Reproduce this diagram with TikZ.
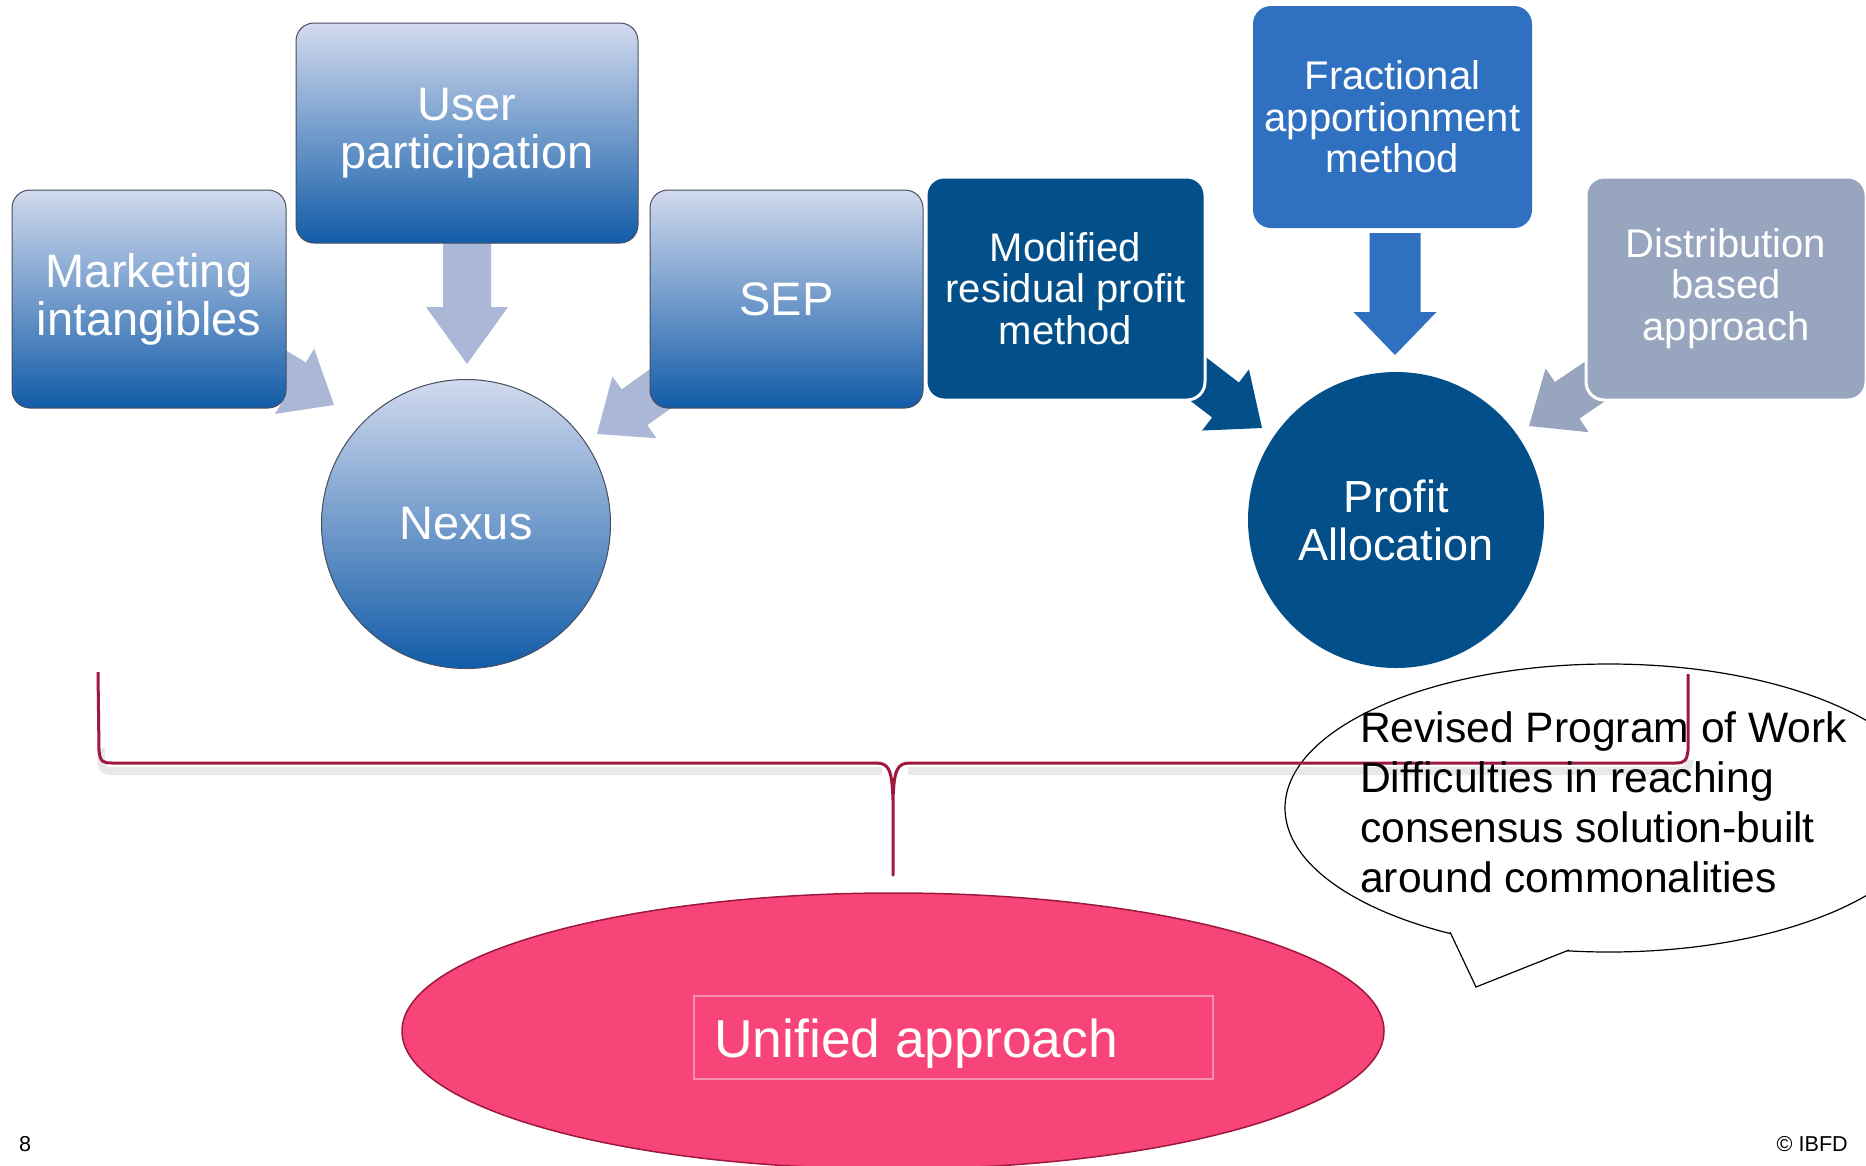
\documentclass[tikz,border=0pt]{standalone}
\usepackage{fontspec}
\setmainfont{Liberation Sans}
\usetikzlibrary{calc,shapes.geometric}
\definecolor{gtop}{RGB}{210,218,238}
\definecolor{gmid}{RGB}{132,160,214}
\definecolor{gbot}{RGB}{18,92,168}
\definecolor{gline}{RGB}{70,78,96}
\definecolor{larrow}{RGB}{170,183,214}
\definecolor{dblue}{RGB}{3,79,137}
\definecolor{mblue}{RGB}{47,112,192}
\definecolor{gblue}{RGB}{151,165,190}
\definecolor{crim}{RGB}{158,24,62}
\definecolor{pinkf}{RGB}{247,69,122}
\definecolor{pinkl}{RGB}{248,145,176}
% tip x, tip y, angle, length, head length, head width, shaft width, colour
\newcommand\blockarr[8]{\fill[#8,shift={(#1,#2)},rotate=#3] (0,0) -- (-#5,#6/2) -- (-#5,#7/2) -- (-#4,#7/2) -- (-#4,-#7/2) -- (-#5,-#7/2) -- (-#5,-#6/2) -- cycle;}
\tikzset{
  gradbox/.style={draw=gline, line width=1, rounded corners=18, top color=gtop, middle color=gmid, bottom color=gbot, text=white, align=center, inner sep=0pt, font=\fontsize{47}{48}\selectfont},
  flatbox/.style={rounded corners=18, text=white, align=center, inner sep=0pt, font=\fontsize{40}{41.5}\selectfont},
}
\begin{document}
\begin{tikzpicture}[x=1pt,y=-1pt]
\useasboundingbox (0,0) rectangle (1866,1165);
\clip (0,0) rectangle (1866,1165);
\fill[white] (0,0) rectangle (1866,1165);

% arrows (behind boxes)
\blockarr{467}{364}{-90}{124}{57}{82}{48}{larrow}
\blockarr{334}{405}{-31}{100}{46}{76}{44}{larrow}
\blockarr{597}{434}{215.5}{100}{46}{76}{44}{larrow}
\blockarr{1395}{355}{-90}{122}{43}{83}{51}{mblue}
\blockarr{1262}{428}{-37.5}{100}{46}{77}{44}{dblue}
\blockarr{1529}{426}{214}{100}{46}{77}{44}{gblue}

% left group
\node[gradbox, minimum width=274, minimum height=218] (mkt) at (149,299) {Marketing\\intangibles};
\node[gradbox, minimum width=342, minimum height=220] (usr) at (467,133) {User\\participation};
\node[gradbox, minimum width=273, minimum height=218] (sep) at (786.5,299) {SEP};
\node[gradbox, circle, minimum size=289] (nexus) at (466,524) {Nexus};

% right group
\node[flatbox, fill=dblue, draw=white, line width=3, minimum width=279, minimum height=223] (mrp) at (1065.5,288.5) {Modified\\residual profit\\method};
\node[flatbox, fill=mblue, minimum width=279, minimum height=222] (frac) at (1392.5,117) {Fractional\\apportionment\\method};
\node[flatbox, fill=gblue, draw=white, line width=3, minimum width=280, minimum height=223] (dist) at (1726,288.5) {Distribution\\based\\approach};
\node[circle, fill=dblue, minimum size=296, text=white, align=center, inner sep=0pt, font=\fontsize{45}{48}\selectfont] (prof) at (1396,520) {Profit\\Allocation};

% speech bubble
\draw[black, line width=1.2] (1609,808) ellipse [x radius=324, y radius=144];
\fill[white] (1450,932) -- (1476,987) -- (1569,950) -- (1569,938) -- (1450,922) -- cycle;
\coordinate (pa) at (1450,932);
\coordinate (pt) at (1476,987);
\coordinate (pb) at (1569,950);
\draw[black, line width=1.2] (pa) -- (pt) -- (pb);

% bracket
\coordinate (bl) at (98,672);
\coordinate (br) at (1688,674);
\coordinate (bm) at (893,875);
\draw[black!50, opacity=0.18, line width=8, line join=round, shift={(2,8)}] (99,740) -- (99,752) .. controls (100,762) and (103,763) .. (112,763) -- (880,763) (906,763) -- (1676,763) .. controls (1685,763) and (1687,760) .. (1688,752);
\draw[crim, line width=3, line join=round] (bl) -- (99,750) .. controls (100,762) and (103,763) .. (112,763) -- (876,763) .. controls (889,763) and (892,770) .. (893,800) -- (bm) -- (893,800) .. controls (894,770) and (897,763) .. (910,763) -- (1676,763) .. controls (1685,763) and (1687,760) .. (1688,750) -- (br);

% bubble text
\node[anchor=north west, align=left, inner sep=0pt, font=\fontsize{42.6}{50}\selectfont, text=black] (rev) at (1360,711) {Revised Program of Work\\Difficulties in reaching\\consensus solution-built\\around commonalities};

% unified approach
\node[ellipse, draw=crim, line width=1.5, fill=pinkf, minimum width=982, minimum height=276, inner sep=0pt] (uni) at (893,1031) {};
\node[draw=pinkl, line width=1.5, minimum width=519, minimum height=83, inner sep=0pt] (unirect) at (953.5,1037.5) {};
\node[anchor=base west, inner sep=0pt, text=white, font=\fontsize{53.4}{56}\selectfont] (unitxt) at (714,1057) {Unified approach};

% footer
\node[anchor=base west, inner sep=0pt, font=\fontsize{21.6}{24}\selectfont] (pg) at (19,1151) {8};
\node[anchor=base east, inner sep=0pt, font=\fontsize{21.6}{24}\selectfont] (cpy) at (1848,1151) {© IBFD};
\end{tikzpicture}
\end{document}
